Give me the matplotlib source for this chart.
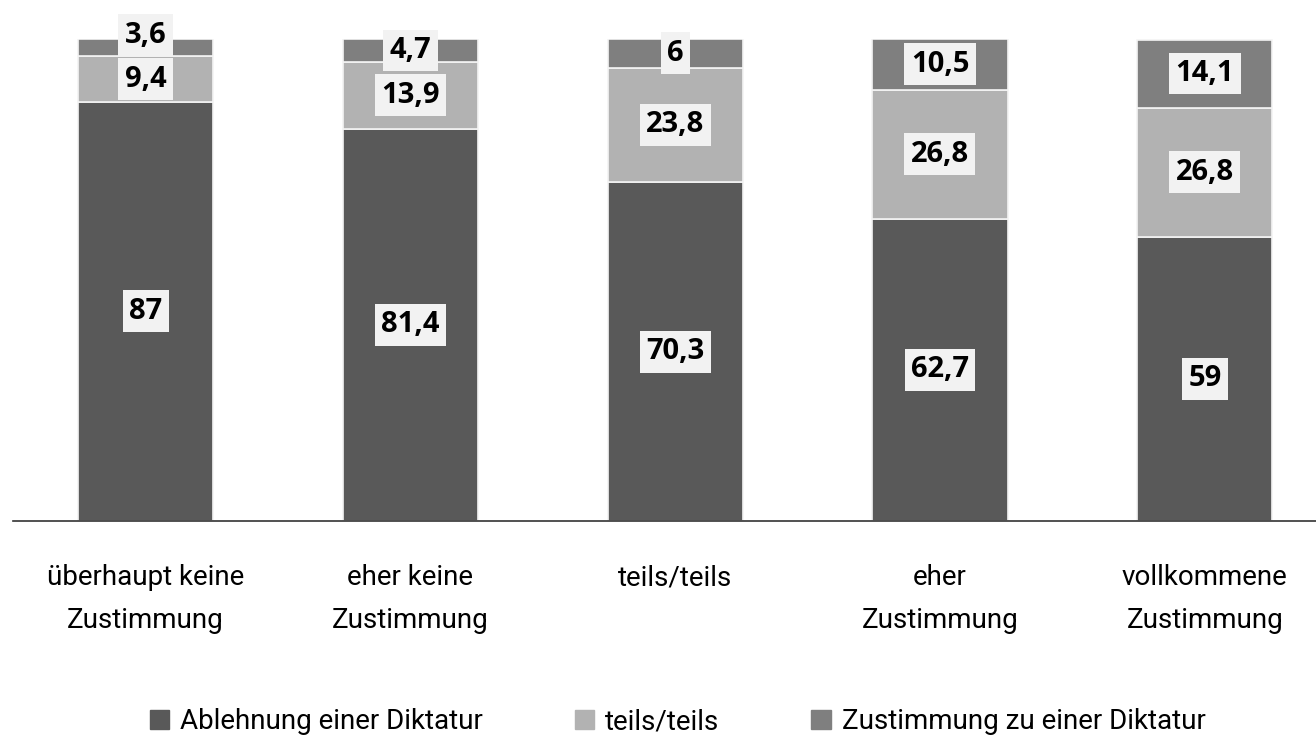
import matplotlib.pyplot as plt
from matplotlib.patches import Patch
import numpy as np

plt.rcParams["font.family"] = ["Liberation Sans Narrow", "Roboto", "DejaVu Sans"]

categories = ["überhaupt keine\nZustimmung", "eher keine\nZustimmung", "teils/teils",
              "eher\nZustimmung", "vollkommene\nZustimmung"]
ablehnung = [87, 81.4, 70.3, 62.7, 59]
teils = [9.4, 13.9, 23.8, 26.8, 26.8]
zustimmung = [3.6, 4.7, 6, 10.5, 14.1]
series_names = ["Ablehnung einer Diktatur", "teils/teils", "Zustimmung zu einer Diktatur"]
colors = ["#595959", "#b2b2b2", "#7f7f7f"]

fig = plt.figure(figsize=(13.16, 7.38), dpi=100)
ax = fig.add_axes([0.01, 0.294, 0.99, 0.653])

x = np.arange(len(categories))
bottom = np.zeros(len(categories))
for vals, col, name in zip([ablehnung, teils, zustimmung], colors, series_names):
    vals = np.array(vals)
    ax.bar(x, vals, width=0.51, bottom=bottom, color=col, edgecolor="#f4f4f4",
           linewidth=1.2, label=name, zorder=2)
    for i, v in enumerate(vals):
        txt = f"{v:g}".replace(".", ",")
        dy = 9 if (name.startswith("Zust") and i == 0) else 0
        ax.annotate(txt, (x[i], bottom[i] + v / 2), xytext=(0, dy), textcoords="offset points",
                    ha="center", va="center", fontsize=21, fontweight="bold",
                    family=["Open Sans", "DejaVu Sans"], color="black", zorder=4,
                    bbox=dict(boxstyle="square,pad=0.22", fc="#f2f2f2", ec="none"))
    bottom += vals

ax.set_xlim(-0.5, 4.42)
ax.set_ylim(0, 100)
ax.set_yticks([])
ax.set_xticks(x)
ax.set_xticklabels(categories, fontsize=20, linespacing=1.75)
ax.tick_params(axis="x", length=0, pad=31)
for s in ["top", "right", "left"]:
    ax.spines[s].set_visible(False)
ax.spines["bottom"].set_color("#333333")
ax.spines["bottom"].set_linewidth(1.2)

handles = [Patch(color=c) for c in colors]
fig.legend(handles, series_names, loc="lower center", bbox_to_anchor=(0.515, -0.03),
           ncol=3, frameon=False, fontsize=20, handlelength=0.7, handleheight=0.7,
           handletextpad=0.4, columnspacing=3.3)

fig.savefig("out.png", dpi=100)
